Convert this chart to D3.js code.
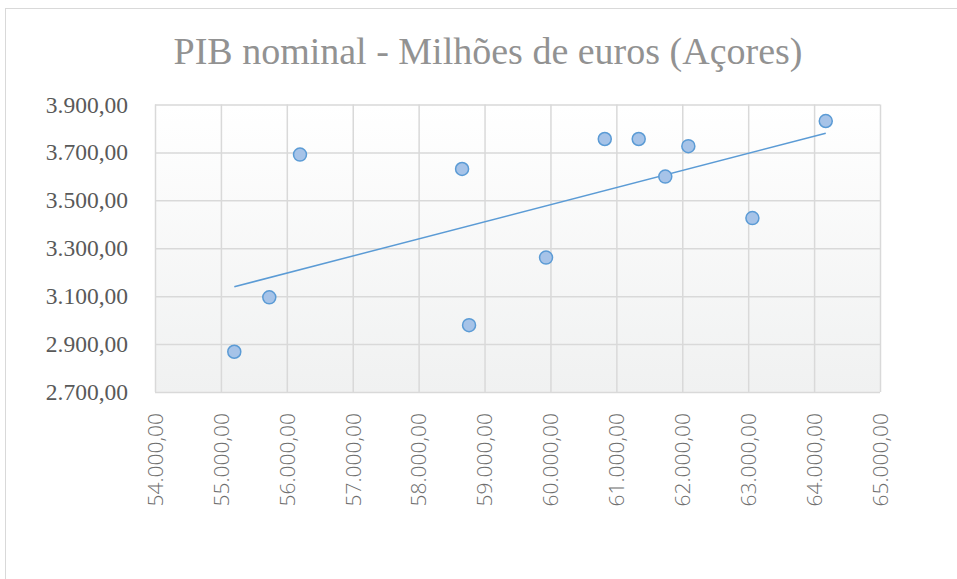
<!DOCTYPE html>
<html>
<head>
<meta charset="utf-8">
<script src="https://cdn.jsdelivr.net/npm/d3@7"></script>
<style>
  body { margin: 0; background: #fff; }
</style>
</head>
<body>
<div id="chart"></div>
<script>
// data
var pib = [55203, 55734, 56200, 58659, 58765, 59933, 60824, 61339, 61742, 62092, 63064, 64177];
var acores = [2868, 3095, 3691, 3631, 2979, 3261, 3756, 3756, 3599, 3726, 3426, 3831];
var xTicks = [54000, 55000, 56000, 57000, 58000, 59000, 60000, 61000, 62000, 63000, 64000, 65000];
var yTicks = [2700, 2900, 3100, 3300, 3500, 3700, 3900];
var title = "PIB nominal - Milhões de euros (Açores)";

var svgWidth = 957;
var svgHeight = 579;
var margin = { top: 104.5, right: 77, bottom: 187, left: 155 };
var width = svgWidth - margin.left - margin.right;
var height = svgHeight - margin.top - margin.bottom;

var svg = d3.select("#chart").append("svg")
  .attr("width", svgWidth)
  .attr("height", svgHeight);

// chart border (cut off at right and bottom)
svg.append("rect")
  .attr("x", 5.5).attr("y", 8.5)
  .attr("width", 1000).attr("height", 700)
  .attr("fill", "#fff")
  .attr("stroke", "#d9d9d9");

// portuguese number format
var pt = d3.formatLocale({ decimal: ",", thousands: ".", grouping: [3], currency: ["", "€"] });
var fmt = pt.format(",.2f");

var grad = svg.append("defs").append("linearGradient")
  .attr("id", "plotbg").attr("x1", 0).attr("y1", 0).attr("x2", 0).attr("y2", 1);
grad.append("stop").attr("offset", "0%").attr("stop-color", "#ffffff");
grad.append("stop").attr("offset", "100%").attr("stop-color", "#f0f1f1");

var chartGroup = svg.append("g")
  .attr("transform", `translate(${margin.left}, ${margin.top})`);

var x = d3.scaleLinear().domain([54000, 65000]).range([0, width]);
var y = d3.scaleLinear().domain([2700, 3900]).range([height, 0]);

chartGroup.append("rect")
  .attr("width", width).attr("height", height)
  .attr("fill", "url(#plotbg)");

// gridlines
var xGrid = chartGroup.append("g")
  .call(d3.axisBottom(x).tickValues(xTicks).tickSize(-height).tickFormat(""))
  .attr("transform", `translate(0, ${height})`);
var yGrid = chartGroup.append("g")
  .call(d3.axisLeft(y).tickValues(yTicks).tickSize(-width).tickFormat(""));
[xGrid, yGrid].forEach(function(g) {
  g.select(".domain").remove();
  g.selectAll("line").attr("stroke", "#d9d9d9").attr("stroke-width", 1.5);
});

// y labels
var yAxis = chartGroup.append("g")
  .call(d3.axisLeft(y).tickValues(yTicks).tickSize(0).tickPadding(27).tickFormat(fmt));
yAxis.select(".domain").remove();
yAxis.selectAll("text")
  .attr("font-family", "'Liberation Serif', 'Times New Roman', serif")
  .attr("font-size", 23.5)
  .attr("fill", "#595959");

// x labels, rotated
var xAxis = chartGroup.append("g")
  .attr("transform", `translate(0, ${height})`)
  .call(d3.axisBottom(x).tickValues(xTicks).tickSize(0).tickFormat(fmt));
xAxis.select(".domain").remove();
xAxis.selectAll("text")
  .attr("font-family", "'Open Sans', 'Liberation Sans', sans-serif")
  .attr("font-size", 21)
  .attr("font-weight", 300)
  .attr("fill", "#6e6e6e")
  .attr("transform", "rotate(-90)")
  .attr("text-anchor", "end")
  .attr("x", -21)
  .attr("y", 0)
  .attr("dy", "0.35em");

// linear trendline (least squares)
var mx = d3.mean(pib), my = d3.mean(acores);
var sxy = d3.sum(pib, (v, i) => (v - mx) * (acores[i] - my));
var sxx = d3.sum(pib, v => (v - mx) * (v - mx));
var slope = sxy / sxx;
var icpt = my - slope * mx;
var x0 = d3.min(pib), x1 = d3.max(pib);

chartGroup.append("line")
  .attr("x1", x(x0)).attr("y1", y(icpt + slope * x0))
  .attr("x2", x(x1)).attr("y2", y(icpt + slope * x1))
  .attr("stroke", "#5b9bd5")
  .attr("stroke-width", 1.5);

// points
chartGroup.selectAll("circle")
  .data(pib)
  .enter()
  .append("circle")
  .attr("cx", d => x(d))
  .attr("cy", (d, i) => y(acores[i]))
  .attr("r", 6.5)
  .attr("fill", "#a6c3e8")
  .attr("stroke", "#5b9bd5")
  .attr("stroke-width", 1.5);

// title
svg.append("text")
  .attr("x", 488)
  .attr("y", 63.5)
  .attr("text-anchor", "middle")
  .attr("font-family", "'Liberation Serif', 'Times New Roman', serif")
  .attr("font-size", 38)
  .attr("fill", "#929292")
  .text(title);
</script>
</body>
</html>
